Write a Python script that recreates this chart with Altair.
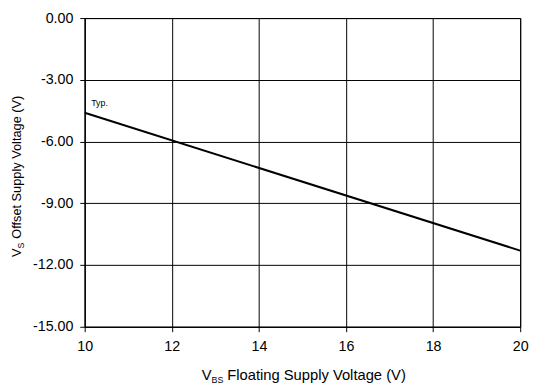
import altair as alt
import pandas as pd

# Data
vbs = [10, 20]
vs_offset = [-4.6, -11.3]
x_ticks = [10, 12, 14, 16, 18, 20]
y_ticks = [-15, -12, -9, -6, -3, 0]
note_x = [10.15]
note_y = [-4.35]
note_text = ["Typ."]

FONT = "Liberation Sans"
W, H = 443, 314

line_df = pd.DataFrame({"vbs": vbs, "vs": vs_offset})
note_df = pd.DataFrame({"x": note_x, "y": note_y, "t": note_text})
one = pd.DataFrame({"k": [0]})

xscale = alt.Scale(domain=[10, 20], nice=False, zero=False)
yscale = alt.Scale(domain=[-15, 0], nice=False, zero=False)

line = alt.Chart(line_df).mark_line(color="black", strokeWidth=2).encode(
    x=alt.X("vbs:Q", scale=xscale,
            axis=alt.Axis(values=x_ticks, format="d", title=None, labelPadding=8)),
    y=alt.Y("vs:Q", scale=yscale,
            axis=alt.Axis(values=y_ticks, title=None, labelPadding=7,
                          labelExpr="replace(format(datum.value, '.2f'), '\u2212', '-')")),
)

note = alt.Chart(note_df).mark_text(
    font=FONT, fontSize=9, align="left", baseline="bottom", color="black"
).encode(x=alt.X("x:Q", scale=xscale), y=alt.Y("y:Q", scale=yscale), text="t:N")

def txt(s, x, y, size, angle=0, align="left"):
    kw = dict(font=FONT, fontSize=size, align=align, baseline="alphabetic",
              color="black", text=s)
    if angle:
        kw["angle"] = angle
    return alt.Chart(one).mark_text(**kw).encode(x=alt.value(x), y=alt.value(y))

# x-axis title with subscript
xt1 = txt("V", 119, 368, 15)
xt2 = txt("BS", 129, 371, 9)
xt3 = txt("Floating Supply Voltage (V)", 145, 368, 15)

# y-axis title with subscript (rotated)
yt1 = txt("V", -65, 243, 13, angle=270)
yt2 = txt("S", -62, 234.3, 9, angle=270)
yt3 = txt("Offset Supply Voltage (V)", -65, 224.5, 13, angle=270)

chart = alt.layer(line, note, xt1, xt2, xt3, yt1, yt2, yt3).properties(
    width=W, height=H,
    autosize=alt.AutoSizeParams(type="none"),
    padding={"left": 78, "top": 7, "right": 12, "bottom": 58},
).configure_view(
    stroke="black", strokeWidth=1
).configure_axis(
    labelFont=FONT, labelFontSize=14.5, labelColor="black",
    domainColor="black", tickColor="black", tickSize=5,
    gridColor="black", gridOpacity=1, gridWidth=1,
    domainWidth=1, tickWidth=1, labelFlush=False,
)

chart.save("out.html", embed_options={"renderer": "svg", "actions": False})
